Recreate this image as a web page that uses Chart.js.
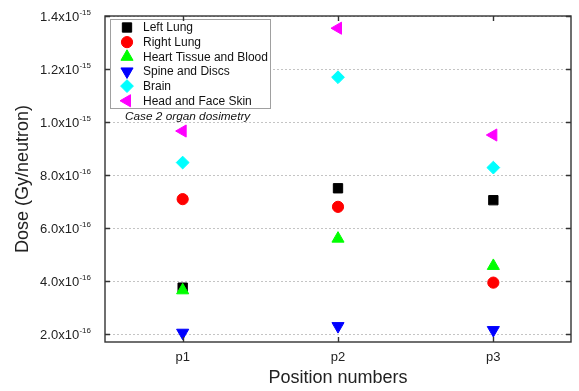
<!DOCTYPE html>
<html>
<head>
<meta charset="utf-8">
<script src="https://cdn.jsdelivr.net/npm/chart.js@4.4.1/dist/chart.umd.min.js"></script>
<style>
  html, body { margin: 0; padding: 0; background: #ffffff; }
  canvas { display: block; }
</style>
</head>
<body>
<canvas id="chart" width="579" height="391"></canvas>
<script>
// Organ dose per neutron at three positions
const positions = ['p1', 'p2', 'p3'];
const leftLung = [3.75e-16, 7.50e-16, 7.05e-16];
const rightLung = [7.09e-16, 6.80e-16, 3.94e-16];
const heartTissueBlood = [3.65e-16, 5.60e-16, 4.57e-16];
const spineDiscs = [2.05e-16, 2.30e-16, 2.15e-16];
const brain = [8.47e-16, 1.169e-15, 8.28e-16];
const headFaceSkin = [9.66e-16, 1.354e-15, 9.51e-16];

const seriesNames = ['Left Lung', 'Right Lung', 'Heart Tissue and Blood', 'Spine and Discs', 'Brain', 'Head and Face Skin'];

const yTickValues = [2e-16, 4e-16, 6e-16, 8e-16, 1.0e-15, 1.2e-15, 1.4e-15];
const yTickMantissas = ['2.0', '4.0', '6.0', '8.0', '1.0', '1.2', '1.4'];
const yTickExponents = ['-16', '-16', '-16', '-16', '-15', '-15', '-15'];

const FONT = '"Liberation Sans", Arial, Helvetica, sans-serif';

function series(label, data, color, pointStyle, rotation, radius, order) {
  return {
    label, data,
    showLine: false,
    backgroundColor: color,
    borderColor: color,
    pointBackgroundColor: color,
    pointBorderColor: color,
    pointBorderWidth: 1,
    pointStyle,
    pointRotation: rotation,
    pointRadius: radius,
    pointHoverRadius: radius,
    order
  };
}

const datasets = [
  series(seriesNames[0], leftLung, '#000000', 'rect', 0, 6.6, 5),
  series(seriesNames[1], rightLung, '#ff0000', 'circle', 0, 5.6, 4),
  series(seriesNames[2], heartTissueBlood, '#00ff00', 'triangle', 0, 7, 3),
  series(seriesNames[3], spineDiscs, '#0000ff', 'triangle', 180, 7, 2),
  series(seriesNames[4], brain, '#00ffff', 'rectRot', 0, 6.4, 1),
  series(seriesNames[5], headFaceSkin, '#ff00ff', 'triangle', 270, 7, 0)
];

// Frame, inward ticks, superscript tick labels, legend box and note
const decorations = {
  id: 'decorations',
  afterDatasetsDraw(chart) {
    const ctx = chart.ctx;
    const area = chart.chartArea;
    const xs = chart.scales.x;
    const ys = chart.scales.y;
    ctx.save();

    // legend box
    const lx = 110.5, ly = 19.5, lw = 160, lh = 89;
    ctx.fillStyle = '#ffffff';
    ctx.fillRect(lx, ly, lw, lh);
    ctx.strokeStyle = '#a0a0a0';
    ctx.lineWidth = 1;
    ctx.strokeRect(lx, ly, lw, lh);
    ctx.font = '12px ' + FONT;
    ctx.textBaseline = 'middle';
    ctx.textAlign = 'left';
    chart.data.datasets.forEach((ds, i) => {
      const cy = 27.5 + i * 14.65;
      ctx.fillStyle = ds.pointBackgroundColor;
      ctx.strokeStyle = ds.pointBorderColor;
      Chart.helpers.drawPoint(ctx, {
        pointStyle: ds.pointStyle,
        rotation: ds.pointRotation,
        radius: ds.pointRadius,
        borderWidth: ds.pointBorderWidth
      }, 127, cy);
      ctx.fillStyle = '#111111';
      ctx.fillText(ds.label, 143, cy + 0.5);
    });

    // note under the legend
    ctx.font = 'italic 11.8px ' + FONT;
    ctx.fillStyle = '#111111';
    ctx.fillText('Case 2 organ dosimetry', 125, 116.5);

    // frame
    ctx.strokeStyle = '#333333';
    ctx.lineWidth = 1.4;
    ctx.strokeRect(area.left, area.top, area.right - area.left, area.bottom - area.top);

    // inward ticks
    const tl = 5;
    ctx.beginPath();
    positions.forEach((p, i) => {
      const x = Math.round(xs.getPixelForValue(i)) + 0.5;
      ctx.moveTo(x, area.bottom); ctx.lineTo(x, area.bottom - tl);
      ctx.moveTo(x, area.top); ctx.lineTo(x, area.top + tl);
    });
    yTickValues.forEach(v => {
      const y = Math.round(ys.getPixelForValue(v)) + 0.5;
      ctx.moveTo(area.left, y); ctx.lineTo(area.left + tl, y);
      ctx.moveTo(area.right, y); ctx.lineTo(area.right - tl, y);
    });
    ctx.stroke();

    // y tick labels with superscript exponents
    ctx.fillStyle = '#222222';
    ctx.textAlign = 'right';
    ctx.textBaseline = 'middle';
    const rightEdge = 91;
    yTickValues.forEach((v, i) => {
      const y = ys.getPixelForValue(v);
      ctx.font = '8px ' + FONT;
      const supW = ctx.measureText(yTickExponents[i]).width;
      ctx.fillText(yTickExponents[i], rightEdge, y - 3);
      ctx.font = '13px ' + FONT;
      ctx.fillText(yTickMantissas[i] + 'x10', rightEdge - supW - 0.3, y + 1.5);
    });

    ctx.restore();
  }
};

new Chart(document.getElementById('chart'), {
  type: 'line',
  data: { labels: positions, datasets },
  options: {
    responsive: false,
    animation: false,
    devicePixelRatio: 1,
    layout: { padding: { top: 16, right: 4, left: 0, bottom: 0 } },
    plugins: {
      legend: { display: false },
      tooltip: { enabled: false }
    },
    scales: {
      x: {
        type: 'category',
        offset: true,
        grid: { display: false, drawTicks: false },
        border: { display: false },
        ticks: {
          color: '#222222',
          font: { family: FONT, size: 13 },
          padding: 8,
          maxRotation: 0
        },
        title: {
          display: true,
          text: 'Position numbers',
          color: '#222222',
          font: { family: FONT, size: 18 },
          padding: { top: 0, bottom: 2 }
        },
        afterFit(scale) { scale.height = 49; }
      },
      y: {
        type: 'linear',
        min: 1.7e-16,
        max: 1.4e-15,
        afterBuildTicks(scale) { scale.ticks = yTickValues.map(v => ({ value: v })); },
        ticks: { display: false },
        grid: { color: '#c4c4c4', lineWidth: 1, drawTicks: false },
        border: { display: false, dash: [2, 2] },
        title: {
          display: true,
          text: 'Dose (Gy/neutron)',
          color: '#222222',
          font: { family: FONT, size: 18 },
          padding: { top: 12, bottom: 0 }
        },
        afterFit(scale) { scale.width = 105; }
      }
    }
  },
  plugins: [decorations]
});
</script>
</body>
</html>
